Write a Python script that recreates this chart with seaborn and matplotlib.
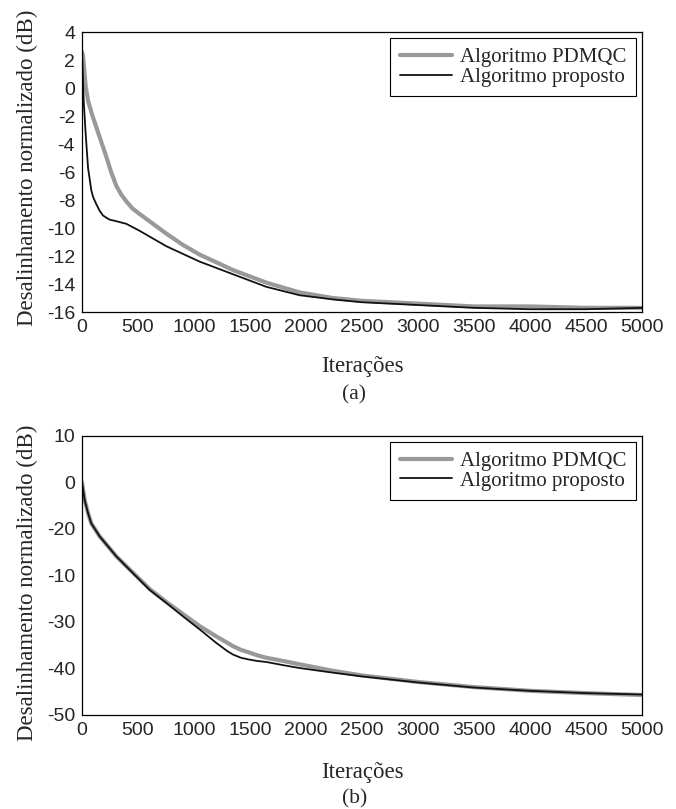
import matplotlib
matplotlib.use("Agg")
import matplotlib.pyplot as plt
import seaborn as sns
import pandas as pd

sns.set_style("white")
plt.rcParams["axes.unicode_minus"] = False
plt.rcParams["font.family"] = "Liberation Sans"

# (a) valores
it_pdmqc_a = [0, 9, 33, 54, 90, 128, 170, 217, 260, 307, 350, 396, 450, 515, 600, 753, 900, 1051, 1348, 1646, 1943, 2241, 2500, 3000, 3500, 4000, 4500, 5000]
db_pdmqc_a = [2.6, 2.3, 0.1, -0.9, -1.9, -2.8, -3.8, -4.9, -6.0, -7.0, -7.6, -8.1, -8.6, -9.0, -9.5, -10.4, -11.2, -11.9, -13.0, -13.9, -14.6, -15.0, -15.2, -15.4, -15.6, -15.6, -15.7, -15.7]
it_prop_a = [0, 15, 33, 54, 83, 100, 128, 160, 187, 215, 247, 300, 396, 515, 753, 1051, 1348, 1646, 1943, 2241, 2500, 3000, 3500, 4000, 4500, 5000]
db_prop_a = [2.7, -0.9, -3.3, -5.7, -7.3, -7.8, -8.3, -8.8, -9.1, -9.25, -9.4, -9.5, -9.7, -10.2, -11.3, -12.4, -13.3, -14.2, -14.8, -15.1, -15.3, -15.5, -15.7, -15.8, -15.8, -15.7]

# (b)
it_b = [0, 24, 54, 83, 158, 307, 455, 604, 753, 902, 1051, 1199, 1300, 1348, 1420, 1497, 1570, 1646, 1800, 1943, 2241, 2500, 3000, 3500, 4000, 4500, 5000]
db_pdmqc_b = [0.0, -3.8, -6.6, -8.8, -11.6, -15.9, -19.4, -22.9, -25.7, -28.3, -30.9, -33.1, -34.5, -35.2, -36.0, -36.6, -37.2, -37.7, -38.4, -39.1, -40.5, -41.5, -42.9, -44.0, -44.8, -45.3, -45.7]
db_prop_b = [0.0, -3.8, -6.6, -8.8, -11.6, -15.9, -19.5, -23.1, -25.9, -28.8, -31.6, -34.5, -36.3, -37.0, -37.7, -38.1, -38.4, -38.6, -39.3, -39.9, -40.9, -41.7, -43.0, -44.1, -44.8, -45.3, -45.6]

x_ticks = [0, 500, 1000, 1500, 2000, 2500, 3000, 3500, 4000, 4500, 5000]
y_ticks_a = [4, 2, 0, -2, -4, -6, -8, -10, -12, -14, -16]
y_ticks_b = [10, 0, -10, -20, -30, -40, -50]
y_labels_b = ["10", "0", "-20", "-10", "-30", "-40", "-50"]  # como no original

nomes = ["Algoritmo PDMQC", "Algoritmo proposto"]
serif = "Liberation Serif"

fig = plt.figure(figsize=(6.76, 8.09), dpi=100)
ax1 = fig.add_axes([0.1213, 0.6143, 0.8284, 0.3461])
ax2 = fig.add_axes([0.1213, 0.1162, 0.8284, 0.3449])


def painel(ax, it1, y1, it2, y2, ylim, yticks, ylabels, ylab_y, xlab_y):
    sns.lineplot(x=it1, y=y1, ax=ax, color="#999999", linewidth=3.0, label=nomes[0],
                 estimator=None, sort=False)
    sns.lineplot(x=it2, y=y2, ax=ax, color="#111111", linewidth=1.3, label=nomes[1],
                 estimator=None, sort=False)
    ax.set_xlim(0, 5000)
    ax.set_ylim(*ylim)
    ax.set_xticks(x_ticks)
    ax.set_xticklabels([str(t) for t in x_ticks])
    ax.set_yticks(yticks)
    ax.set_yticklabels(ylabels)
    ax.tick_params(axis="x", direction="in", length=4, width=0.8, pad=5, labelsize=14)
    ax.tick_params(axis="y", length=0, pad=5, labelsize=14)
    for s in ax.spines.values():
        s.set_color("black")
        s.set_linewidth(0.9)
    ax.set_xlabel("Iterações", family=serif, fontsize=16.5)
    ax.set_ylabel("Desalinhamento normalizado (dB)", family=serif, fontsize=16.5)
    ax.xaxis.set_label_coords(0.5, xlab_y)
    ax.yaxis.set_label_coords(-0.079, ylab_y)
    leg = ax.legend(loc="upper right", prop={"family": serif, "size": 15},
                    fancybox=False, edgecolor="black", framealpha=1,
                    handlelength=2.5, handletextpad=0.4, labelspacing=0.0,
                    borderpad=0.45, borderaxespad=0.3)
    leg.get_frame().set_linewidth(0.8)


painel(ax1, it_pdmqc_a, db_pdmqc_a, it_prop_a, db_prop_a, (-16, 4),
       y_ticks_a, [str(t) for t in y_ticks_a], 0.514, -0.157)
painel(ax2, it_b, db_pdmqc_b, it_b, db_prop_b, (-50, 10),
       y_ticks_b, y_labels_b, 0.473, -0.168)

fig.text(0.524, 0.5117, "(a)", family=serif, fontsize=15.5, ha="center", va="center")
fig.text(0.524, 0.0124, "(b)", family=serif, fontsize=15.5, ha="center", va="center")

fig.savefig("out.png", dpi=100)
